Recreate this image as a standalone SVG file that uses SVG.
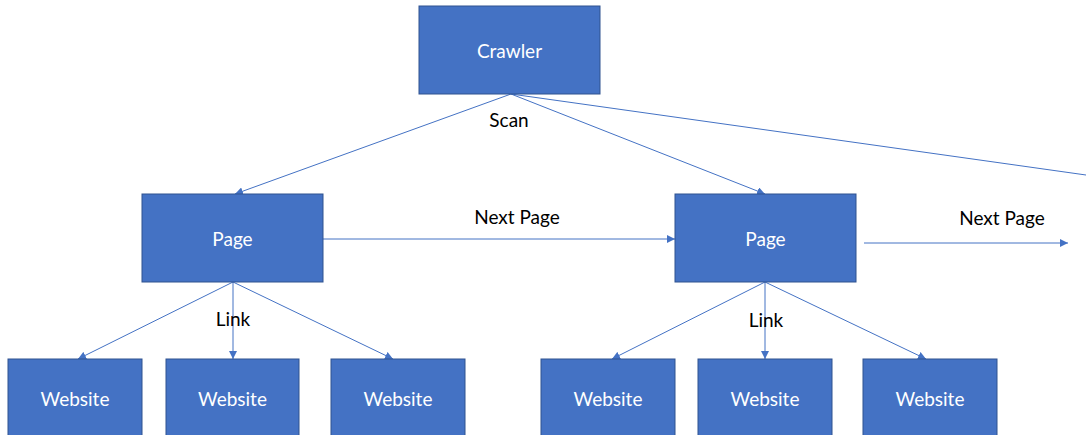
<svg xmlns="http://www.w3.org/2000/svg" width="1086" height="435" viewBox="0 0 1086 435">
<style>
.box{fill:#4472C4;stroke:#2F528F;stroke-width:1}
.nt{fill:#FFFFFF;font-family:Lato,"Open Sans",sans-serif;font-size:19px;text-anchor:middle;dominant-baseline:central}
.lb{fill:#000000;font-family:Lato,"Open Sans",sans-serif;font-size:19px;text-anchor:middle;dominant-baseline:central}
.ln{stroke:#4472C4;stroke-width:1;fill:none}
</style>
<defs>
<marker id="ah" viewBox="0 0 10 10" refX="10" refY="5" markerWidth="8" markerHeight="8" markerUnits="userSpaceOnUse" orient="auto">
<path d="M0,0 L10,5 L0,10 z" fill="#4472C4"/>
</marker>
</defs>
<rect width="1086" height="435" fill="#FFFFFF"/>
<g id="connectors">
<line class="ln" x1="511" y1="94" x2="235" y2="194" marker-end="url(#ah)"/>
<line class="ln" x1="511" y1="94" x2="765" y2="194" marker-end="url(#ah)"/>
<line class="ln" x1="511" y1="94" x2="1086" y2="175"/>
<line class="ln" x1="323" y1="239" x2="675" y2="239" marker-end="url(#ah)"/>
<line class="ln" x1="864" y1="243" x2="1068" y2="243" marker-end="url(#ah)"/>
<line class="ln" x1="233" y1="282" x2="78" y2="359" marker-end="url(#ah)"/>
<line class="ln" x1="233" y1="282" x2="233" y2="359" marker-end="url(#ah)"/>
<line class="ln" x1="233" y1="282" x2="393" y2="359" marker-end="url(#ah)"/>
<line class="ln" x1="765" y1="282" x2="612" y2="359" marker-end="url(#ah)"/>
<line class="ln" x1="765" y1="282" x2="765" y2="359" marker-end="url(#ah)"/>
<line class="ln" x1="765" y1="282" x2="926" y2="359" marker-end="url(#ah)"/>
<text class="lb" x="509" y="119">Scan</text>
<text class="lb" x="517" y="216">Next Page</text>
<text class="lb" x="1002" y="217">Next Page</text>
<text class="lb" x="233" y="318">Link</text>
<text class="lb" x="766" y="319">Link</text>
</g>
<g id="crawler"><rect class="box" x="419" y="6" width="181" height="88"/><text class="nt" x="509.5" y="50">Crawler</text></g>
<g id="page1"><rect class="box" x="142" y="194" width="181" height="88"/><text class="nt" x="232.5" y="238">Page</text></g>
<g id="page2"><rect class="box" x="675" y="194" width="181" height="88"/><text class="nt" x="765.5" y="238">Page</text></g>
<g id="website1"><rect class="box" x="8" y="359" width="134" height="85"/><text class="nt" x="75" y="398">Website</text></g>
<g id="website2"><rect class="box" x="166" y="359" width="133" height="85"/><text class="nt" x="232.5" y="398">Website</text></g>
<g id="website3"><rect class="box" x="331" y="359" width="134" height="85"/><text class="nt" x="398" y="398">Website</text></g>
<g id="website4"><rect class="box" x="541" y="359" width="134" height="85"/><text class="nt" x="608" y="398">Website</text></g>
<g id="website5"><rect class="box" x="698" y="359" width="134" height="85"/><text class="nt" x="765" y="398">Website</text></g>
<g id="website6"><rect class="box" x="863" y="359" width="134" height="85"/><text class="nt" x="930" y="398">Website</text></g>
</svg>
